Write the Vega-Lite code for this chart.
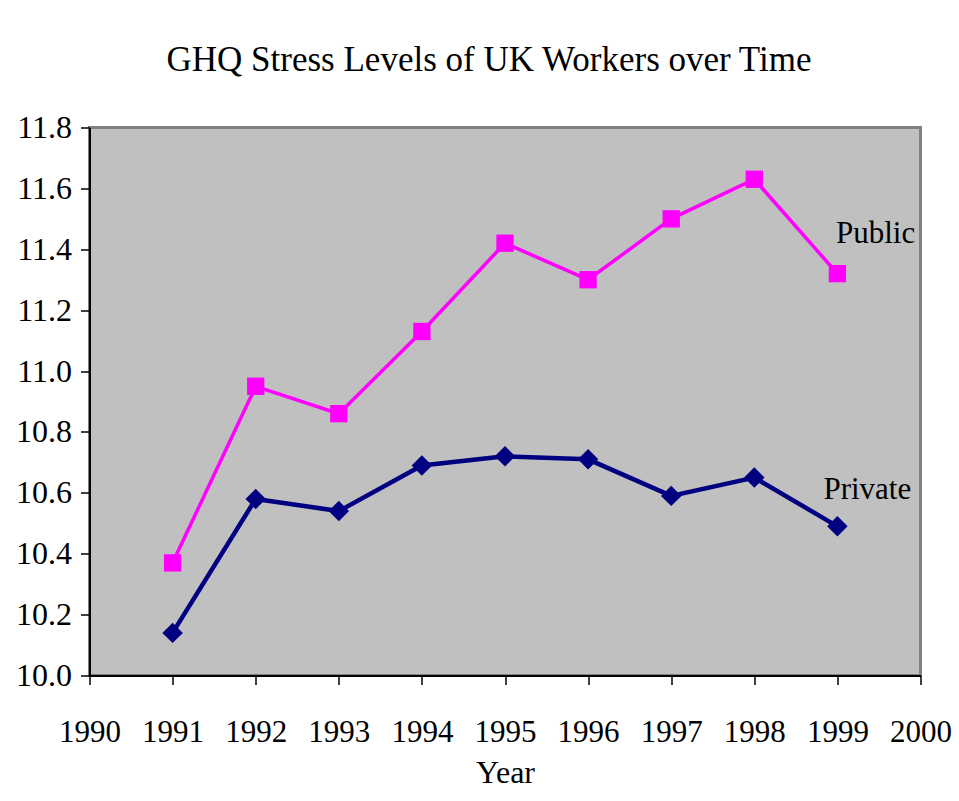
{
  "$schema": "https://vega.github.io/schema/vega-lite/v6.json",
  "autosize": "none",
  "width": 831,
  "height": 548,
  "padding": {"left": 89.5, "top": 127.5, "right": 38.5, "bottom": 125.5},
  "background": "white",
  "config": {
    "font": "Liberation Serif",
    "view": {"fill": "#C0C0C0", "stroke": "#808080", "strokeWidth": 3}
  },
  "title": {
    "text": "GHQ Stress Levels of UK Workers over Time",
    "font": "Liberation Serif",
    "fontSize": 35,
    "fontWeight": "normal",
    "color": "black",
    "anchor": "middle",
    "dx": -16,
    "offset": 34
  },
  "datasets": {
    "series": [
      {"Year": 1991, "Sector": "Public", "GHQ": 10.37},
      {"Year": 1992, "Sector": "Public", "GHQ": 10.95},
      {"Year": 1993, "Sector": "Public", "GHQ": 10.86},
      {"Year": 1994, "Sector": "Public", "GHQ": 11.13},
      {"Year": 1995, "Sector": "Public", "GHQ": 11.42},
      {"Year": 1996, "Sector": "Public", "GHQ": 11.30},
      {"Year": 1997, "Sector": "Public", "GHQ": 11.50},
      {"Year": 1998, "Sector": "Public", "GHQ": 11.63},
      {"Year": 1999, "Sector": "Public", "GHQ": 11.32},
      {"Year": 1991, "Sector": "Private", "GHQ": 10.14},
      {"Year": 1992, "Sector": "Private", "GHQ": 10.58},
      {"Year": 1993, "Sector": "Private", "GHQ": 10.54},
      {"Year": 1994, "Sector": "Private", "GHQ": 10.69},
      {"Year": 1995, "Sector": "Private", "GHQ": 10.72},
      {"Year": 1996, "Sector": "Private", "GHQ": 10.71},
      {"Year": 1997, "Sector": "Private", "GHQ": 10.59},
      {"Year": 1998, "Sector": "Private", "GHQ": 10.65},
      {"Year": 1999, "Sector": "Private", "GHQ": 10.49}
    ],
    "labels": [
      {"Year": 1999.46, "GHQ": 11.45, "Sector": "Public"},
      {"Year": 1999.36, "GHQ": 10.61, "Sector": "Private"}
    ]
  },
  "encoding": {
    "x": {
      "field": "Year",
      "type": "quantitative",
      "scale": {"domain": [1990, 2000], "nice": false, "zero": false},
      "axis": {
        "values": [1990, 1991, 1992, 1993, 1994, 1995, 1996, 1997, 1998, 1999, 2000],
        "format": "d",
        "grid": false,
        "domainColor": "black",
        "domainWidth": 2,
        "tickColor": "black",
        "tickWidth": 1.5,
        "tickSize": 9,
        "labelFont": "Liberation Serif",
        "labelFontSize": 31,
        "labelColor": "black",
        "labelPadding": 33,
        "labelFlush": false,
        "title": "Year",
        "titleFont": "Liberation Serif",
        "titleFontSize": 32,
        "titleFontWeight": "normal",
        "titleColor": "black",
        "titlePadding": 10
      }
    },
    "y": {
      "field": "GHQ",
      "type": "quantitative",
      "scale": {"domain": [10.0, 11.8], "nice": false, "zero": false},
      "axis": {
        "values": [10.0, 10.2, 10.4, 10.6, 10.8, 11.0, 11.2, 11.4, 11.6, 11.8],
        "format": ".1f",
        "grid": false,
        "domainColor": "black",
        "domainWidth": 2,
        "tickColor": "black",
        "tickWidth": 1.5,
        "tickSize": 9,
        "labelFont": "Liberation Serif",
        "labelFontSize": 32,
        "labelColor": "black",
        "labelPadding": 9,
        "labelFlush": false,
        "title": null
      }
    }
  },
  "layer": [
    {
      "data": {"name": "series"},
      "mark": {"type": "line"},
      "encoding": {
        "color": {
          "field": "Sector",
          "type": "nominal",
          "scale": {"domain": ["Public", "Private"], "range": ["#FF00FF", "#000080"]},
          "legend": null
        },
        "strokeWidth": {
          "field": "Sector",
          "type": "nominal",
          "scale": {"domain": ["Public", "Private"], "range": [3.5, 4.5]},
          "legend": null
        }
      }
    },
    {
      "data": {"name": "series"},
      "mark": {"type": "point", "filled": true, "opacity": 1},
      "encoding": {
        "color": {
          "field": "Sector",
          "type": "nominal",
          "scale": {"domain": ["Public", "Private"], "range": ["#FF00FF", "#000080"]},
          "legend": null
        },
        "shape": {
          "field": "Sector",
          "type": "nominal",
          "scale": {"domain": ["Public", "Private"], "range": ["square", "diamond"]},
          "legend": null
        },
        "size": {
          "field": "Sector",
          "type": "nominal",
          "scale": {"domain": ["Public", "Private"], "range": [300, 420]},
          "legend": null
        }
      }
    },
    {
      "data": {"name": "labels"},
      "mark": {"type": "text", "font": "Liberation Serif", "fontSize": 31, "color": "black", "align": "center", "baseline": "middle"},
      "encoding": {
        "text": {"field": "Sector", "type": "nominal"}
      }
    }
  ]
}
